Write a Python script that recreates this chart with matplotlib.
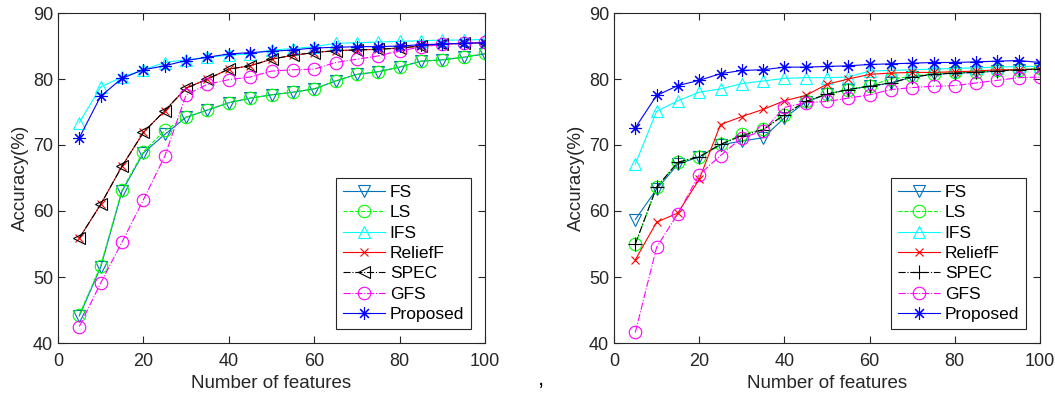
import numpy as np
import matplotlib
matplotlib.use('Agg')
import matplotlib.pyplot as plt

plt.rcParams['font.family'] = ['Liberation Sans', 'DejaVu Sans']

features = list(range(5, 101, 5))

# Left panel data
fs_a = [44.1, 51.5, 63.0, 68.8, 71.6, 74.2, 75.3, 76.4, 77.1, 77.6,
        78.0, 78.5, 79.7, 80.7, 81.1, 81.8, 82.7, 82.9, 83.3, 83.8]
ls_a = [44.3, 51.7, 63.2, 69.0, 72.2, 74.2, 75.3, 76.4, 77.1, 77.6,
        78.0, 78.5, 79.7, 80.7, 81.1, 81.8, 82.7, 82.9, 83.3, 83.9]
ifs_a = [73.4, 78.8, 80.3, 81.4, 82.5, 82.9, 83.3, 83.6, 83.8, 84.4,
         84.6, 84.9, 85.4, 85.5, 85.6, 85.7, 85.8, 85.9, 85.9, 86.0]
relieff_a = [55.9, 61.0, 66.8, 71.9, 75.2, 78.6, 80.0, 81.5, 82.0, 83.0,
             83.6, 84.0, 84.3, 84.4, 84.5, 84.7, 85.0, 85.3, 85.4, 85.5]
spec_a = [55.9, 61.0, 66.8, 71.9, 75.2, 78.6, 80.0, 81.5, 82.0, 83.0,
          83.6, 84.0, 84.3, 84.4, 84.5, 84.7, 85.0, 85.3, 85.4, 85.5]
gfs_a = [42.5, 49.1, 55.3, 61.7, 68.3, 77.6, 79.2, 79.9, 80.3, 81.2,
         81.4, 81.5, 82.5, 83.0, 83.5, 84.3, 84.8, 85.3, 85.4, 85.6]
prop_a = [71.1, 77.4, 80.1, 81.4, 82.0, 82.8, 83.3, 83.8, 84.0, 84.2,
          84.4, 84.7, 84.8, 84.9, 84.9, 85.0, 85.2, 85.3, 85.4, 85.5]

# Right panel data
fs_b = [58.7, 63.3, 67.1, 68.2, 70.0, 70.6, 71.1, 74.1, 76.5, 77.7,
        78.4, 78.9, 79.4, 80.3, 80.7, 80.9, 81.0, 81.2, 81.4, 81.5]
ls_b = [55.0, 63.6, 67.4, 68.2, 70.1, 71.6, 72.4, 74.6, 76.6, 77.7,
        78.4, 79.0, 80.0, 80.4, 80.8, 81.0, 81.1, 81.3, 81.4, 81.6]
ifs_b = [67.1, 75.1, 76.7, 78.0, 78.5, 79.3, 79.7, 80.1, 80.2, 80.2,
         80.3, 81.2, 81.3, 81.4, 81.5, 81.6, 81.7, 81.8, 81.9, 81.9]
relieff_b = [52.6, 58.3, 59.7, 64.8, 73.1, 74.3, 75.4, 76.7, 77.5, 79.2,
             80.0, 80.7, 80.9, 81.0, 81.0, 81.1, 81.2, 81.4, 81.4, 81.5]
spec_b = [55.0, 63.6, 67.4, 68.2, 70.1, 71.4, 72.3, 74.6, 76.6, 77.7,
          78.4, 78.9, 79.4, 80.3, 80.7, 80.9, 81.0, 81.2, 81.4, 81.5]
gfs_b = [41.6, 54.5, 59.6, 65.5, 68.4, 71.1, 72.1, 75.7, 76.4, 76.6,
         77.1, 77.6, 78.4, 78.7, 78.9, 79.0, 79.4, 79.8, 80.2, 80.3]
prop_b = [72.6, 77.5, 79.0, 79.8, 80.8, 81.3, 81.4, 81.8, 81.8, 81.9,
          82.0, 82.2, 82.3, 82.4, 82.5, 82.5, 82.6, 82.7, 82.8, 82.5]

labels = ['FS', 'LS', 'IFS', 'ReliefF', 'SPEC', 'GFS', 'Proposed']

# matlab-like asterisk: 8 spokes
ASTER = (8, 2, 0)


def draw(ax, series, spec_marker):
    styles = [
        dict(color='#0072BD', ls='-', marker='v', ms=9),
        dict(color='#00FF00', ls='--', marker='o', ms=9),
        dict(color='#00FFFF', ls='-', marker='^', ms=9),
        dict(color='#FF0000', ls='-', marker='x', ms=6),
        dict(color='black', ls='-.', marker=spec_marker, ms=9 if spec_marker == '<' else 10),
        dict(color='#FF00FF', ls='-.', marker='o', ms=9),
        dict(color='#0000FF', ls='-', marker=ASTER, ms=9),
    ]
    for y, st, lab in zip(series, styles, labels):
        ax.plot(features, y, color=st['color'], linestyle=st['ls'], lw=0.8,
                marker=st['marker'], markersize=st['ms'], markerfacecolor='none',
                markeredgecolor=st['color'], markeredgewidth=0.8, label=lab)
    ax.set_xlim(0, 100)
    ax.set_ylim(40, 90)
    ax.set_xticks([0, 20, 40, 60, 80, 100])
    ax.set_yticks([40, 50, 60, 70, 80, 90])
    ax.tick_params(direction='in', top=True, right=True, labelsize=13,
                   length=5, width=0.8, colors='#262626')
    ax.tick_params(axis='x', pad=7)
    for sp in ax.spines.values():
        sp.set_color('#262626')
        sp.set_linewidth(0.8)
    ax.set_xlabel('Number of features', fontsize=13.5, color='#262626', labelpad=4)
    ax.set_ylabel('Accuracy(%)', fontsize=13.5, color='#262626', labelpad=3)
    leg = ax.legend(loc='lower right', fontsize=12.5, fancybox=False,
                    framealpha=1, edgecolor='#262626', borderpad=0.4,
                    labelspacing=0.3, handlelength=2.4, handletextpad=0.3,
                    borderaxespad=0.8)
    leg.get_frame().set_linewidth(0.8)


fig = plt.figure(figsize=(10.55, 3.99), dpi=100)
ax1 = fig.add_axes([58 / 1055, 1 - 343 / 399, 427 / 1055, 330 / 399])
ax2 = fig.add_axes([614 / 1055, 1 - 343 / 399, 426 / 1055, 330 / 399])

draw(ax1, [fs_a, ls_a, ifs_a, relieff_a, spec_a, gfs_a, prop_a], '<')
draw(ax2, [fs_b, ls_b, ifs_b, relieff_b, spec_b, gfs_b, prop_b], '+')

fig.text(541 / 1055, 1 - 380 / 399, ',', fontsize=16, ha='center', va='center')

fig.savefig('out.png', dpi=100)
